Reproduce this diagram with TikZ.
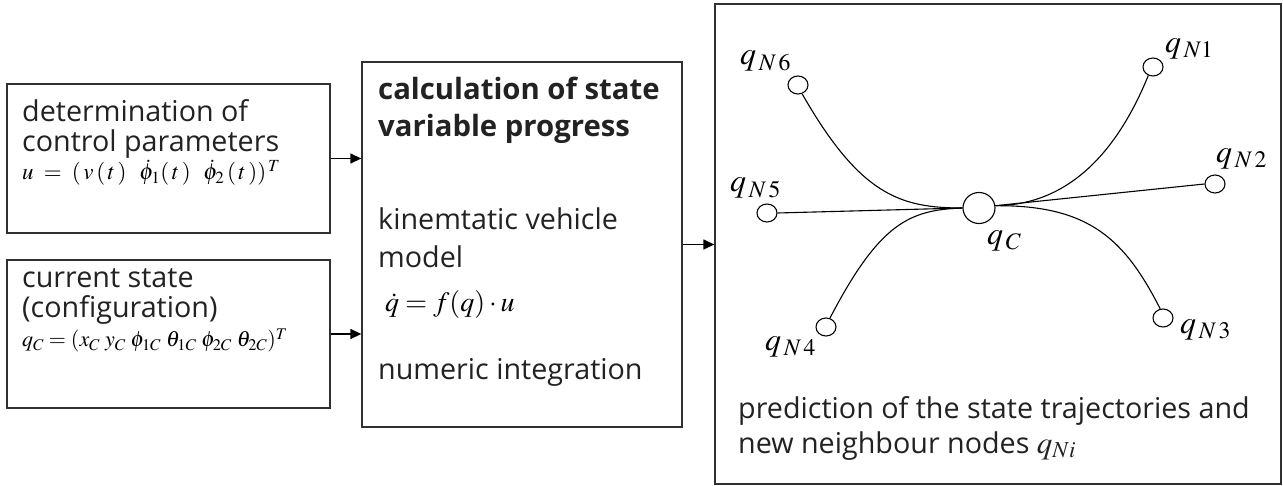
\documentclass[tikz,border=0pt]{standalone}
\usepackage{mathptmx}
\usepackage[no-math]{fontspec}
\setmainfont{Open Sans}
\usetikzlibrary{arrows.meta,shapes.geometric}
\definecolor{txt}{HTML}{222222}
\definecolor{edge}{HTML}{303030}
\newcommand\bodyfont{\fontsize{28.7}{34}\selectfont}
\newcommand\boldbody{\fontsize{29.3}{34}\selectfont\bfseries}
\newcommand\mathsmall{\fontsize{22}{25}\selectfont}
\newcommand\mathone{\fontsize{23}{26}\selectfont}
\newcommand\mathmid{\fontsize{28}{32}\selectfont}
\newcommand\mathlbl{\fontsize{32}{36}\selectfont}
\begin{document}
\begin{tikzpicture}[x=1pt,y=-1pt,
  box/.style={draw=edge, line width=1.3pt, inner sep=0pt},
  line/.style={txt, anchor=base west, inner sep=0pt, font=\bodyfont},
  bline/.style={txt, anchor=base west, inner sep=0pt, font=\boldbody},
  frm/.style={black, anchor=base west, inner sep=0pt, font=\mathsmall},
  frmone/.style={black, anchor=base west, inner sep=0pt, font=\mathone},
  frmb/.style={black, anchor=base west, inner sep=0pt, font=\mathmid},
  lbl/.style={black, anchor=base west, inner sep=0pt, font=\mathlbl},
  pt/.style={draw, ellipse, line width=1.1pt, minimum width=20pt, minimum height=18pt, inner sep=0pt},
  traj/.style={line width=1.1pt},
  flow/.style={line width=1.3pt, -{Triangle[length=11pt,width=10pt]}}]
\useasboundingbox (0,0) rectangle (1283,486);
% boxes
\node[box, minimum width=323pt, minimum height=149pt] (b1) at (168.5,158.5) {};
\node[box, minimum width=323pt, minimum height=148pt] (b2) at (168.5,334) {};
\node[box, minimum width=320pt, minimum height=365pt] (b3) at (522,244.5) {};
\node[box, minimum width=566pt, minimum height=480pt] (b4) at (998,244) {};
% box 1 text
\node[line] (t11) at (22,122) {determination of};
\node[line] (t12) at (22,152) {control parameters};
\node[frmone] (t13) at (22,180) {$u\;=\;(\,v\,(\,t\,)\;\;\,\dot{\phi}_1(\,t\,)\;\;\,\dot{\phi}_2\,(\,t\,))^{\,T}$};
% box 2 text
\node[line] (t21) at (22,288) {current state};
\node[line] (t22) at (22,318) {(configuration)};
\node[frm] (t23) at (22,347) {$q_C=(x_C\;y_C\;\phi_{1C}\;\theta_{1C}\;\phi_{2C}\;\theta_{2C})^T$};
% box 3 text
\node[bline] (t31) at (378,100) {calculation of state};
\node[bline] (t32) at (378,137) {variable progress};
\node[line] (t33) at (378,230) {kinemtatic vehicle};
\node[line] (t34) at (378,268) {model};
\node[frmb] (t35) at (385,312) {$\dot q = f(q)\cdot u$};
\node[line] (t36) at (378,380) {numeric integration};
% box 4 text
\node[line] (t41) at (738,418) {prediction of the state trajectories and};
\node[line] (t42) at (738,453) {new neighbour nodes {\fontsize{31}{34}\selectfont$q_{Ni}$}};
% arrows
\draw[flow] (b1.east) -- (b1.east -| b3.west);
\draw[flow] (b2.east) -- (b2.east -| b3.west);
\draw[flow] (b3.east) -- (b3.east -| b4.west);
% tree
\node[pt, minimum width=32pt, minimum height=31pt] (qc) at (979,208) {};
\node[pt] (n1) at (1153,67) {};
\node[pt] (n2) at (1215,184) {};
\node[pt] (n3) at (1163,318) {};
\node[pt] (n4) at (826,327) {};
\node[pt] (n5) at (767,213) {};
\node[pt] (n6) at (798,85) {};
\node[lbl] (l1) at (1165,53) {$q_{\,N1}$};
\node[lbl] (l2) at (1216,163) {$q_{\,N\,2}$};
\node[lbl] (l3) at (1180,334) {$q_{\,N\,3}$};
\node[lbl] (l4) at (765,351) {$q_{\,N\,4}$};
\node[lbl] (l5) at (730,192) {$q_{\,N\,5}$};
\node[lbl] (l6) at (740,65) {$q_{\,N\,6}$};
\node[lbl] (lc) at (987,245) {$q_{\,C}$};
\draw[traj] (n6.-65) .. controls (860,195) and (900,208) .. (qc.west);
\draw[traj] (n5.east) -- (qc.west);
\draw[traj] (qc.west) .. controls (910,210) and (880,222) .. (n4.66);
\draw[traj] (qc.8) .. controls (1070,205) and (1118,150) .. (n1.-119);
\draw[traj] (qc.8) -- (n2.west);
\draw[traj] (qc.8) .. controls (1090,205) and (1125,240) .. (n3.107);
\end{tikzpicture}
\end{document}
